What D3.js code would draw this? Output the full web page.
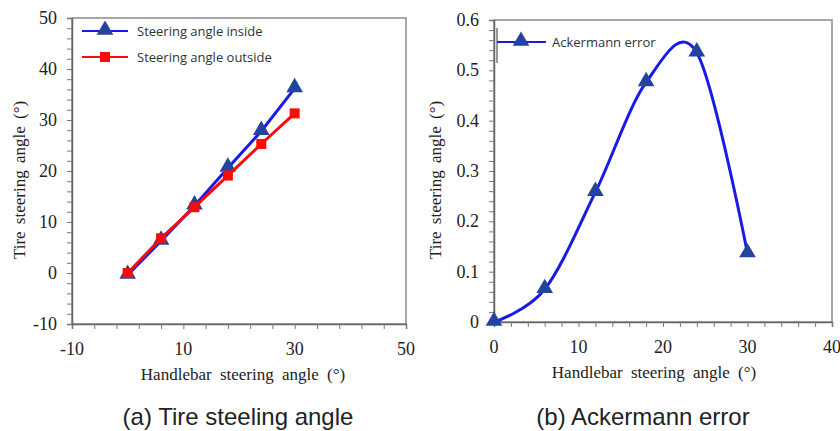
<!DOCTYPE html>
<html>
<head>
<meta charset="utf-8">
<script src="https://cdn.jsdelivr.net/npm/d3@7"></script>
<style>
  body { margin: 0; background: #fff; }
  svg { display: block; }
</style>
</head>
<body>
<div id="chart"></div>
<script>
// data
var handlebar = [0, 6, 12, 18, 24, 30];
var insideAngle = [-0.4, 6.3, 13.2, 20.6, 27.8, 36.2];
var outsideAngle = [0, 6.8, 12.9, 19.1, 25.3, 31.3];
var ackermannError = [0, 0.065, 0.258, 0.476, 0.535, 0.136];

var leftXTicks = [-10, 10, 30, 50],
    leftYTicks = [-10, 0, 10, 20, 30, 40, 50],
    rightXTicks = [0, 10, 20, 30, 40],
    rightYTicks = [0, 0.1, 0.2, 0.3, 0.4, 0.5, 0.6];

var W = 840, H = 431;
var svg = d3.select("#chart").append("svg")
    .attr("width", W)
    .attr("height", H);

var serif = "'Liberation Serif', 'Times New Roman', serif",
    sans = "'Liberation Sans', Arial, sans-serif",
    legendFont = "'Open Sans', sans-serif";

var blueLine = "#1a1ae6",
    blueMarker = "#23449c",
    red = "#ff0a0a",
    frameColor = "#8a8a8a";

// draws one framed panel with minor ticks outside, returns scales + group
function panel(opt) {
    var x = d3.scaleLinear().domain(opt.xDomain).range([opt.left, opt.right]);
    var y = d3.scaleLinear().domain(opt.yDomain).range([opt.bottom, opt.top]);
    var g = svg.append("g");

    g.append("rect")
        .attr("x", opt.left).attr("y", opt.top)
        .attr("width", opt.right - opt.left).attr("height", opt.bottom - opt.top)
        .attr("fill", "none").attr("stroke", frameColor).attr("stroke-width", 1.5);

    // minor ticks
    var xAxis = d3.axisBottom(x).tickValues(d3.range(opt.xDomain[0], opt.xDomain[1] + 1e-9, opt.xMinor))
        .tickSize(5).tickFormat("");
    g.append("g").attr("transform", "translate(0," + opt.bottom + ")").call(xAxis)
        .call(function(s) {
            s.select(".domain").attr("stroke", "#666").attr("stroke-width", 1.5);
            s.selectAll(".tick line").attr("stroke", "#777");
        });
    var yAxis = d3.axisLeft(y).tickValues(d3.range(opt.yDomain[0], opt.yDomain[1] + 1e-9, opt.yMinor))
        .tickSize(5).tickFormat("");
    g.append("g").attr("transform", "translate(" + opt.left + ",0)").call(yAxis)
        .call(function(s) {
            s.select(".domain").attr("stroke", "#666").attr("stroke-width", 1.5);
            s.selectAll(".tick line").attr("stroke", "#777");
        });

    // tick labels
    g.selectAll("text.xl").data(opt.xTicks).enter().append("text")
        .attr("x", function(d) { return x(d); })
        .attr("y", opt.bottom + 31)
        .attr("text-anchor", "middle")
        .style("font-family", serif).style("font-size", "18px").attr("fill", "#222")
        .text(function(d) { return d; });
    g.selectAll("text.yl").data(opt.yTicks).enter().append("text")
        .attr("x", opt.left - 15)
        .attr("y", function(d) { return y(d) + 6; })
        .attr("text-anchor", "end")
        .style("font-family", serif).style("font-size", "18px").attr("fill", "#222")
        .text(opt.yFormat);

    // axis titles
    g.append("text")
        .attr("transform", "translate(" + opt.yTitleX + "," + ((opt.top + opt.bottom) / 2 + 9) + ") rotate(-90)")
        .attr("text-anchor", "middle")
        .style("font-family", serif).style("font-size", "17px").style("word-spacing", "3px").attr("fill", "#222")
        .text("Tire steering angle (°)");
    g.append("text")
        .attr("x", opt.xTitleX).attr("y", opt.bottom + 56)
        .attr("text-anchor", "middle")
        .style("font-family", serif).style("font-size", "17px").style("word-spacing", "4px").attr("fill", "#222")
        .text("Handlebar steering angle (°)");

    // caption
    g.append("text")
        .attr("x", opt.captionX).attr("y", 425)
        .attr("text-anchor", "middle")
        .style("font-family", sans).style("font-size", "24px").attr("fill", "#222")
        .text(opt.caption);

    return { x: x, y: y, g: g };
}

function triangle(sel, color) {
    sel.append("path")
        .attr("d", d3.symbol().type(d3.symbolTriangle).size(120))
        .attr("fill", color);
}

// ---------- (a) ----------
var a = panel({
    left: 72, right: 406, top: 18, bottom: 324,
    xDomain: [-10, 50], yDomain: [-10, 50],
    xMinor: 4, yMinor: 2,
    xTicks: leftXTicks, yTicks: leftYTicks,
    yFormat: function(d) { return d; },
    yTitleX: 25, xTitleX: 243, captionX: 238,
    caption: "(a) Tire steeling angle"
});

var lineA = d3.line()
    .x(function(d) { return a.x(d[0]); })
    .y(function(d) { return a.y(d[1]); });

var insidePts = d3.zip(handlebar, insideAngle),
    outsidePts = d3.zip(handlebar, outsideAngle);

a.g.append("path").datum(insidePts).attr("d", lineA)
    .attr("fill", "none").attr("stroke", blueLine).attr("stroke-width", 3);
a.g.selectAll("g.tri").data(insidePts).enter().append("g")
    .attr("transform", function(d) { return "translate(" + a.x(d[0]) + "," + (a.y(d[1]) - 1) + ")"; })
    .call(triangle, blueMarker);

a.g.append("path").datum(outsidePts).attr("d", lineA)
    .attr("fill", "none").attr("stroke", red).attr("stroke-width", 3);
a.g.selectAll("rect.sq").data(outsidePts).enter().append("rect")
    .attr("x", function(d) { return a.x(d[0]) - 5; })
    .attr("y", function(d) { return a.y(d[1]) - 5; })
    .attr("width", 10).attr("height", 10)
    .attr("fill", red);

// legend (a)
var legA = [
    { label: "Steering angle inside", color: blueLine, marker: "tri", y: 31 },
    { label: "Steering angle outside", color: red, marker: "sq", y: 57 }
];
legA.forEach(function(l) {
    a.g.append("line").attr("x1", 82).attr("x2", 128).attr("y1", l.y).attr("y2", l.y)
        .attr("stroke", l.color).attr("stroke-width", 2);
    if (l.marker == "tri") {
        a.g.append("g").attr("transform", "translate(105," + (l.y - 1) + ")").call(triangle, blueMarker);
    } else {
        a.g.append("rect").attr("x", 100).attr("y", l.y - 5).attr("width", 10).attr("height", 10).attr("fill", red);
    }
    a.g.append("text").attr("x", 137).attr("y", l.y + 5)
        .style("font-family", legendFont).style("font-size", "13px").attr("fill", "#333")
        .text(l.label);
});

// ---------- (b) ----------
var b = panel({
    left: 494, right: 832, top: 20, bottom: 322,
    xDomain: [0, 40], yDomain: [0, 0.6],
    xMinor: 2, yMinor: 0.02,
    xTicks: rightXTicks, yTicks: rightYTicks,
    yFormat: function(d) { return d; },
    yTitleX: 441, xTitleX: 654, captionX: 643,
    caption: "(b) Ackermann error"
});

var errPts = d3.zip(handlebar, ackermannError);
b.g.append("path").datum(errPts)
    .attr("d", d3.line()
        .x(function(d) { return b.x(d[0]); })
        .y(function(d) { return b.y(d[1]); })
        .curve(d3.curveCardinal.tension(0)))
    .attr("fill", "none").attr("stroke", blueLine).attr("stroke-width", 3);
b.g.selectAll("g.tri").data(errPts).enter().append("g")
    .attr("transform", function(d) { return "translate(" + b.x(d[0]) + "," + (b.y(d[1]) - 1) + ")"; })
    .call(triangle, blueMarker);

// legend (b)
b.g.append("line").attr("x1", 497).attr("x2", 497).attr("y1", 28).attr("y2", 63)
    .attr("stroke", "#333").attr("stroke-width", 1);
b.g.append("line").attr("x1", 497).attr("x2", 546).attr("y1", 42).attr("y2", 42)
    .attr("stroke", blueLine).attr("stroke-width", 2);
b.g.append("g").attr("transform", "translate(521,41)").call(triangle, blueMarker);
b.g.append("text").attr("x", 552).attr("y", 47)
    .style("font-family", legendFont).style("font-size", "13px").attr("fill", "#333")
    .text("Ackermann error");
</script>
</body>
</html>
